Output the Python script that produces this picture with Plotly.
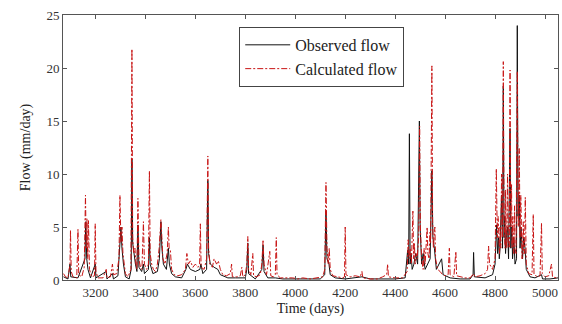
import plotly.graph_objects as go

# Observed flow (black): (day, mm/day)
observed_points = [
    (3072, 0.3), (3090, 0.1), (3098, 1.5), (3101, 0.3), (3130, 0.2), (3158, 2.0), (3161, 5.5),
    (3165, 2.0), (3170, 1.0), (3180, 0.2), (3199, 1.5), (3202, 0.2), (3243, 0.8), (3246, 0.1),
    (3268, 0.6), (3272, 0.1), (3290, 0.4), (3298, 3.0), (3302, 5.0), (3306, 3.0), (3312, 1.5),
    (3320, 0.3), (3335, 0.1), (3343, 1.0), (3346, 11.4), (3349, 3.5), (3354, 2.5), (3360, 1.5),
    (3366, 0.8), (3370, 5.2), (3374, 1.2), (3385, 0.8), (3392, 1.5), (3396, 0.6), (3412, 1.0),
    (3416, 4.0), (3419, 1.5), (3430, 0.6), (3448, 0.8), (3456, 2.0), (3462, 5.5), (3466, 3.0),
    (3472, 1.5), (3484, 1.0), (3492, 3.0), (3496, 1.5), (3505, 0.6), (3520, 0.3), (3545, 0.2),
    (3562, 1.0), (3568, 1.5), (3580, 1.0), (3600, 0.8), (3618, 1.0), (3622, 1.5), (3630, 0.6),
    (3645, 1.0), (3650, 9.4), (3653, 2.5), (3660, 1.5), (3675, 1.2), (3690, 1.0), (3700, 0.5),
    (3730, 0.2), (3760, 0.2), (3800, 0.2), (3806, 1.0), (3810, 3.5), (3813, 0.6), (3840, 0.1),
    (3866, 1.0), (3871, 3.3), (3875, 0.8), (3890, 0.2), (3920, 0.2), (3950, 0.1), (4000, 0.1),
    (4050, 0.1), (4100, 0.1), (4118, 0.5), (4123, 6.5), (4127, 2.0), (4135, 1.5), (4140, 0.5),
    (4160, 0.2), (4200, 0.1), (4267, 0.3), (4300, 0.1), (4400, 0.1), (4440, 0.2), (4450, 2.8),
    (4454, 1.5), (4457, 13.8), (4460, 1.5), (4464, 2.5), (4468, 1.0), (4475, 1.5), (4482, 2.5),
    (4490, 1.5), (4497, 15.0), (4500, 5.0), (4506, 1.5), (4512, 2.5), (4520, 1.0), (4530, 1.5),
    (4540, 2.0), (4547, 10.3), (4551, 4.0), (4557, 3.0), (4565, 1.0), (4586, 2.0), (4592, 0.5),
    (4620, 0.2), (4660, 0.1), (4700, 0.1), (4712, 0.5), (4714, 2.6), (4717, 0.3), (4760, 0.2),
    (4790, 0.5), (4800, 1.5), (4806, 5.2), (4810, 2.5), (4814, 4.0), (4817, 2.0), (4820, 3.0),
    (4826, 8.0), (4830, 3.0), (4833, 18.3), (4836, 4.0), (4839, 6.0), (4842, 2.5), (4846, 4.5),
    (4850, 5.0), (4854, 2.0), (4860, 14.3), (4863, 3.0), (4867, 5.0), (4870, 2.0), (4875, 4.0),
    (4880, 1.5), (4886, 2.0), (4889, 24.0), (4892, 6.0), (4897, 8.0), (4900, 3.0), (4904, 5.0),
    (4910, 2.0), (4915, 4.0), (4920, 3.0), (4925, 1.0), (4940, 0.3), (4960, 0.2), (4986, 0.5),
    (4990, 0.1), (5020, 0.1), (5052, 0.2),
]

# Calculated flow (red dash-dot): (day, mm/day)
calculated_points = [
    (3072, 0.6), (3080, 0.3), (3090, 0.2), (3098, 1.5), (3100, 4.7), (3103, 0.8), (3110, 0.3),
    (3125, 0.2), (3130, 4.8), (3133, 0.5), (3145, 0.3), (3155, 1.2), (3160, 8.0), (3163, 3.0),
    (3166, 5.8), (3169, 2.0), (3172, 5.6), (3176, 1.0), (3185, 0.3), (3196, 0.4), (3199, 5.3),
    (3202, 0.8), (3210, 0.2), (3230, 0.2), (3243, 1.0), (3246, 0.2), (3260, 0.3), (3268, 1.5),
    (3272, 0.5), (3285, 0.6), (3294, 2.0), (3298, 8.0), (3302, 3.5), (3306, 5.0), (3310, 2.5),
    (3314, 1.5), (3320, 0.6), (3330, 0.3), (3342, 1.0), (3346, 21.8), (3349, 4.0), (3353, 2.5),
    (3358, 3.0), (3362, 1.5), (3366, 1.0), (3370, 7.7), (3374, 2.0), (3380, 1.2), (3386, 1.0),
    (3392, 5.5), (3396, 1.5), (3405, 1.0), (3412, 1.5), (3416, 10.3), (3419, 2.5), (3425, 1.5),
    (3432, 1.0), (3440, 0.8), (3448, 1.5), (3455, 3.0), (3462, 5.7), (3466, 4.0), (3470, 2.0),
    (3478, 1.5), (3487, 2.5), (3492, 5.0), (3495, 3.0), (3500, 2.8), (3505, 1.0), (3515, 0.5),
    (3530, 0.4), (3545, 0.5), (3560, 1.0), (3566, 2.5), (3572, 1.5), (3580, 1.8), (3590, 1.2),
    (3600, 1.5), (3610, 1.2), (3617, 1.5), (3620, 5.3), (3623, 1.2), (3635, 1.0), (3645, 2.0),
    (3650, 11.7), (3653, 3.0), (3658, 1.5), (3668, 1.2), (3675, 2.0), (3685, 1.5), (3692, 1.8),
    (3700, 1.0), (3710, 0.5), (3725, 0.4), (3740, 0.6), (3745, 1.5), (3748, 0.3), (3765, 0.3),
    (3780, 0.4), (3786, 1.2), (3790, 0.3), (3800, 0.5), (3806, 1.5), (3810, 4.1), (3813, 1.0),
    (3822, 0.5), (3830, 2.5), (3833, 0.4), (3845, 0.3), (3860, 0.5), (3866, 1.5), (3871, 3.7),
    (3875, 1.5), (3885, 0.5), (3898, 2.7), (3902, 0.4), (3912, 0.3), (3920, 0.5), (3924, 4.0),
    (3927, 0.5), (3940, 0.2), (3960, 0.2), (3990, 0.2), (4010, 0.1), (4030, 0.2), (4060, 0.1),
    (4090, 0.2), (4110, 0.3), (4118, 1.0), (4123, 9.2), (4127, 3.0), (4132, 1.5), (4136, 3.0),
    (4140, 1.0), (4150, 0.4), (4170, 0.3), (4190, 0.2), (4197, 0.3), (4200, 5.0), (4203, 0.5),
    (4220, 0.3), (4240, 0.4), (4260, 0.3), (4267, 0.8), (4270, 0.2), (4300, 0.1), (4330, 0.1),
    (4350, 0.3), (4366, 0.5), (4370, 1.5), (4373, 0.3), (4400, 0.2), (4430, 0.2), (4448, 0.8),
    (4452, 3.8), (4456, 2.0), (4460, 3.0), (4465, 1.5), (4471, 6.5), (4474, 2.0), (4477, 3.5),
    (4480, 1.5), (4484, 2.5), (4488, 2.0), (4494, 4.0), (4498, 14.5), (4501, 5.0), (4506, 2.0),
    (4512, 1.0), (4516, 3.0), (4520, 1.5), (4528, 5.0), (4531, 2.5), (4536, 2.0), (4539, 4.5),
    (4542, 3.5), (4547, 20.2), (4550, 5.5), (4553, 3.0), (4556, 4.0), (4559, 5.0), (4562, 2.0),
    (4570, 1.0), (4580, 0.8), (4590, 0.5), (4600, 0.4), (4612, 0.5), (4617, 3.0), (4620, 0.5),
    (4635, 0.3), (4643, 2.7), (4646, 0.4), (4660, 0.3), (4680, 0.2), (4700, 0.2), (4714, 0.6),
    (4720, 0.3), (4740, 0.4), (4760, 0.6), (4770, 1.0), (4774, 3.2), (4778, 1.5), (4790, 1.0),
    (4800, 2.0), (4805, 10.5), (4809, 4.0), (4812, 6.0), (4815, 3.0), (4818, 2.5), (4820, 5.0),
    (4823, 3.0), (4826, 10.0), (4830, 4.0), (4833, 20.6), (4836, 6.0), (4840, 3.0), (4842, 8.5),
    (4845, 4.0), (4847, 3.0), (4850, 10.0), (4853, 3.5), (4857, 3.0), (4860, 19.8), (4863, 5.0),
    (4866, 9.0), (4868, 3.0), (4871, 6.0), (4875, 2.5), (4878, 7.0), (4880, 3.0), (4884, 2.5),
    (4889, 19.7), (4893, 5.0), (4897, 12.4), (4900, 4.0), (4903, 8.0), (4905, 2.5), (4908, 2.0),
    (4910, 3.0), (4913, 5.5), (4915, 2.5), (4918, 2.5), (4921, 7.8), (4925, 1.5), (4935, 0.6),
    (4948, 0.5), (4953, 6.2), (4956, 0.5), (4970, 0.3), (4980, 0.4), (4986, 5.4), (4989, 0.6),
    (5000, 0.3), (5015, 0.4), (5026, 1.5), (5030, 0.3), (5045, 0.2), (5052, 0.3),
]

obs_day = [d for d, v in observed_points]
obs_flow = [v for d, v in observed_points]
calc_day = [d for d, v in calculated_points]
calc_flow = [v for d, v in calculated_points]

x_ticks = [3200, 3400, 3600, 3800, 4000, 4200, 4400, 4600, 4800, 5000]
y_ticks = [0, 5, 10, 15, 20, 25]

FONT = "Liberation Serif"

fig = go.Figure()
fig.add_trace(go.Scatter(x=obs_day, y=obs_flow, mode="lines", name="Observed flow",
                         line=dict(color="#111111", width=1)))
fig.add_trace(go.Scatter(x=calc_day, y=calc_flow, mode="lines", name="Calculated flow",
                         line=dict(color="#c81414", width=1, dash="6px,2px,2px,2px")))

axis_common = dict(showline=True, linecolor="#555555", linewidth=1, mirror="ticks",
                   ticks="inside", ticklen=4, tickcolor="#555555", showgrid=False,
                   zeroline=False, tickfont=dict(family=FONT, size=13, color="#333333"))

fig.update_layout(
    width=562, height=324,
    margin=dict(l=63, r=4, t=15, b=44),
    paper_bgcolor="white", plot_bgcolor="white",
    font=dict(family=FONT, color="#222222"),
    xaxis=dict(range=[3070, 5052], tickvals=x_ticks,
               title=dict(text="Time (days)", font=dict(family=FONT, size=14), standoff=4),
               **axis_common),
    yaxis=dict(range=[0, 25], tickvals=y_ticks,
               title=dict(text="Flow (mm/day)", font=dict(family=FONT, size=14), standoff=12),
               **axis_common),
    legend=dict(x=0.356, y=0.955, xanchor="left", yanchor="top",
                bgcolor="white", bordercolor="#444444", borderwidth=1,
                font=dict(family=FONT, size=16, color="#222222"),
                tracegroupgap=0, itemwidth=45),
    showlegend=True,
)

fig.write_html("out.html")
